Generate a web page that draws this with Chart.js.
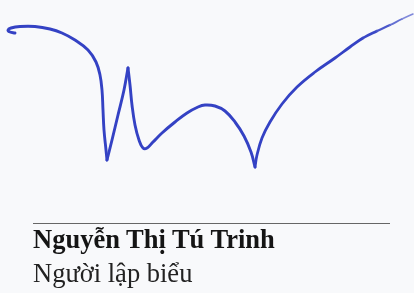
<!DOCTYPE html>
<html>
<head>
<meta charset="utf-8">
<script src="https://cdn.jsdelivr.net/npm/chart.js@4.4.1/dist/chart.umd.min.js"></script>
<style>
  html, body { margin: 0; padding: 0; background: #f8f9fb; }
  #wrap { position: relative; width: 414px; height: 293px; overflow: hidden; }
  #sig { position: absolute; left: 0; top: 0; }
  .rule { position: absolute; left: 33px; top: 223px; width: 357px; height: 0; border-top: 1.5px solid #666; }
  .name, .role { position: absolute; left: 33px; font-family: "Liberation Serif", "Times New Roman", serif; font-size: 26.5px; line-height: 27px; color: #151515; white-space: nowrap; }
  .name { top: 226px; font-weight: bold; }
  .role { top: 260px; color: #222; }
</style>
</head>
<body>
<div id="wrap">
  <canvas id="sig" width="414" height="293"></canvas>
  <div class="rule"></div>
  <div class="name">Nguyễn Thị Tú Trinh</div>
  <div class="role">Người lập biểu</div>
</div>
<script>
// signature strokes, page pixel coords (y down)
const hookX = [15, 10, 8, 11, 20, 35, 50, 62, 75, 88, 96, 100, 102, 103, 104, 106, 107];
const hookY = [33, 32, 30, 28, 26.5, 26.5, 29, 33, 40, 50, 62, 75, 90, 110, 130, 150, 160];

const upX = [107, 112, 118, 124, 128];
const upY = [160, 140, 115, 90, 68];

const waveX = [128, 130, 132, 135, 139, 143, 147, 153, 162, 175, 187, 198, 205, 215, 225, 235, 244, 251, 255];
const waveY = [68, 85, 105, 125, 140, 148, 148, 142, 133, 122, 113, 107, 105, 106, 111, 122, 136, 152, 167];

const tailX = [255, 257, 262, 270, 282, 297, 315, 335, 350, 363, 377, 390, 402, 413];
const tailY = [167, 155, 138, 122, 104, 87, 72, 58, 47, 38, 31, 25, 19, 14];

const ink = "#3442c4";
// ink thinning out at the pen lift, one colour per last tail segment
const tailInk = ["#3a48c6", "#4a57ca", "#6370d2", "#8089da"];

function toPoints(xs, ys) {
    return xs.map((x, i) => ({ x: x, y: ys[i] }));
}

function stroke(xs, ys, fade) {
    const ds = {
        data: toPoints(xs, ys),
        showLine: true,
        borderColor: ink,
        borderWidth: 2.9,
        pointRadius: 0,
        tension: 0.4,
        clip: false,
        borderCapStyle: "round",
        borderJoinStyle: "round"
    };
    if (fade) {
        const start = xs.length - 1 - tailInk.length;
        ds.segment = {
            borderColor: ctx => {
                const k = ctx.p0DataIndex - start;
                return k >= 0 ? tailInk[k] : ink;
            },
            borderWidth: ctx => {
                const k = ctx.p0DataIndex - start;
                return k >= 0 ? 2.6 - k * 0.35 : 2.8;
            }
        };
    }
    return ds;
}

new Chart(document.getElementById("sig"), {
    type: "scatter",
    data: {
        datasets: [
            stroke(hookX, hookY),
            stroke(upX, upY),
            stroke(waveX, waveY),
            stroke(tailX, tailY, true)
        ]
    },
    options: {
        responsive: false,
        devicePixelRatio: 1,
        animation: false,
        layout: { padding: 0 },
        plugins: { legend: { display: false }, tooltip: { enabled: false } },
        scales: {
            x: { type: "linear", min: 0, max: 414, display: false },
            y: { type: "linear", min: 0, max: 293, reverse: true, display: false }
        }
    }
});
</script>
</body>
</html>
